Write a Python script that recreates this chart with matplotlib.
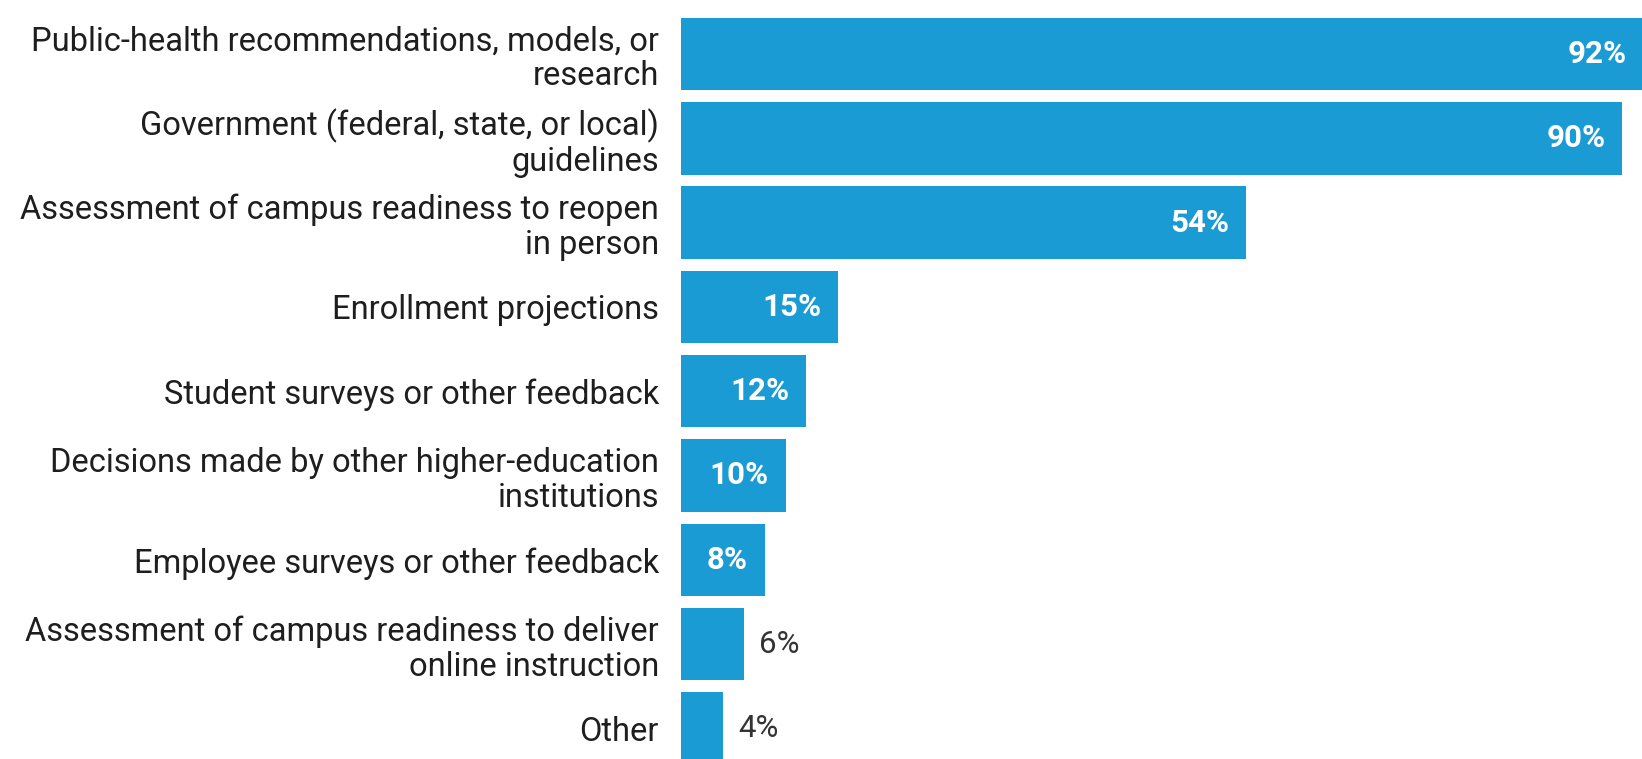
import numpy as np
import matplotlib.pyplot as plt

# data
categories = [
    'Public-health recommendations, models, or\nresearch',
    'Government (federal, state, or local)\nguidelines',
    'Assessment of campus readiness to reopen\nin person',
    'Enrollment projections',
    'Student surveys or other feedback',
    'Decisions made by other higher-education\ninstitutions',
    'Employee surveys or other feedback',
    'Assessment of campus readiness to deliver\nonline instruction',
    'Other',
]
values = [92, 90, 54, 15, 12, 10, 8, 6, 4]
value_labels = ['92%', '90%', '54%', '15%', '12%', '10%', '8%', '6%', '4%']

bar_color = '#1a9bd3'
text_color = '#1e1e1e'

plt.rcParams['font.family'] = ['Roboto', 'DejaVu Sans']

fig = plt.figure(figsize=(16.42, 7.59), dpi=100)
fig.patch.set_facecolor('white')
ax = fig.add_axes([681 / 1642, 0, 1 - 681 / 1642, 1])
ax.set_facecolor('white')

y = np.arange(len(categories))
ax.barh(y, values, height=0.86, color=bar_color, clip_on=True)

ax.set_xlim(0, 91.9)
ax.set_ylim(8.363, -0.64)

ax.set_yticks(y)
ax.set_yticklabels(categories, fontsize=23.5, color=text_color, linespacing=1.12)
ax.tick_params(axis='y', length=0, pad=16)
ax.set_xticks([])
for s in ax.spines.values():
    s.set_visible(False)

# value labels: inside (white, bold) for wide bars, outside for narrow ones
for i, (v, lab) in enumerate(zip(values, value_labels)):
    if v >= 8:
        ax.annotate(lab, xy=(v, i), xytext=(-12, 0), textcoords='offset points',
                    ha='right', va='center', color='white', fontsize=22.5,
                    fontweight='bold', annotation_clip=False)
    else:
        ax.annotate(lab, xy=(v, i), xytext=(11, 0), textcoords='offset points',
                    ha='left', va='center', color='#333333', fontsize=22.5,
                    annotation_clip=False)

fig.savefig('out.png', dpi=100)
